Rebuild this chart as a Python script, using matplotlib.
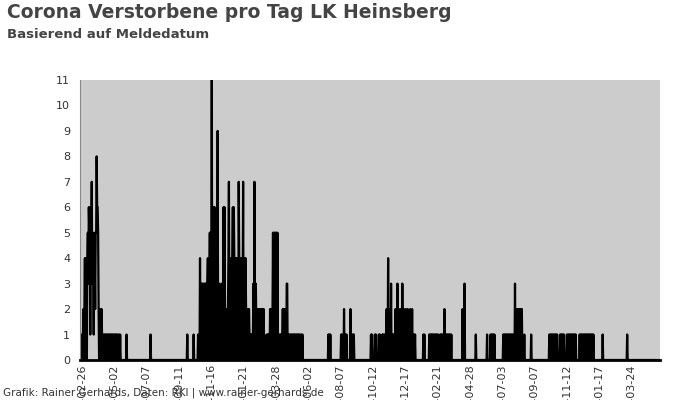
import pandas as pd
import matplotlib
matplotlib.use("Agg")
import matplotlib.pyplot as plt

# Tageswerte erste Welle (ab 2020-02-26)
wave1_start = "2020-02-26"
wave1_deaths = [
    1, 0, 1, 2, 0, 2, 4, 0, 4, 3,
    0, 4, 5, 3, 6, 5, 6, 1, 6, 5,
    7, 3, 5, 4, 1, 5, 4, 2, 5, 5,
    8, 6, 6, 5, 2, 0, 2, 1, 2, 0,
    2, 1, 0, 1, 1, 0, 1, 0, 1, 1,
    0, 1, 0, 1, 0, 1, 1, 0, 1, 0,
    1, 0, 1, 0, 1, 0, 1, 1, 0, 1,
    0, 1, 0, 1, 0, 0, 1, 0, 1, 0,
]

# Tageswerte zweite Welle (ab 2020-09-25)
wave2_start = "2020-09-25"
wave2_deaths = [
    0, 0, 0, 1, 0, 0, 0, 0, 0, 0,
    0, 0, 0, 0, 0, 0, 1, 0, 0, 0,
    0, 0, 0, 0, 0, 1, 0, 0, 0, 4,
    0, 3, 1, 3, 3, 0, 2, 3, 0, 3,
    1, 3, 0, 2, 3, 4, 0, 4, 2, 5,
    0, 5, 2, 11, 0, 6, 2, 6, 0, 6,
    2, 4, 0, 2, 2, 9, 0, 2, 3, 2,
    0, 2, 2, 3, 0, 2, 2, 6, 0, 6,
    2, 0, 2, 1, 2, 0, 2, 4, 7, 0,
    4, 4, 0, 4, 2, 4, 6, 0, 6, 4,
    0, 4, 4, 0, 2, 4, 4, 0, 7, 4,
    0, 4, 2, 4, 0, 4, 2, 7, 0, 4,
    4, 0, 4, 2, 0, 2, 1, 2, 0, 2,
    1, 0, 1, 1, 0, 1, 0, 1, 3, 0,
    7, 3, 0, 3, 1, 2, 0, 2, 2, 0,
    2, 1, 2, 0, 2, 2, 0, 2, 1, 2,
    0, 0, 0, 0, 0, 1, 0, 1, 0, 1,
    1, 0, 2, 0, 2, 1, 0, 2, 5, 0,
    5, 5, 0, 5, 1, 5, 0, 5, 0, 1,
    1, 0, 1, 0, 1, 1, 0, 1, 2, 0,
    2, 2, 0, 2, 1, 0, 3, 3, 0, 1,
    0, 1, 1, 0, 1, 0, 1, 0, 1, 0,
    1, 1, 0, 1, 0, 1, 0, 1, 0, 1,
    0, 1, 0, 1, 0, 0, 1, 0, 1, 0,
]

# einzelne Meldetage danach (alle uebrigen Tage: 0)
other_dates = [
    "2020-05-27", "2020-07-15",
    "2021-07-13", "2021-07-15", "2021-07-17",
    "2021-08-08", "2021-08-10", "2021-08-14", "2021-08-17", "2021-08-19",
    "2021-08-27", "2021-08-30", "2021-09-01", "2021-09-03",
    "2021-10-08", "2021-10-10", "2021-10-16", "2021-10-18", "2021-10-24", "2021-10-26",
    "2021-10-31", "2021-11-02", "2021-11-04", "2021-11-06", "2021-11-08", "2021-11-09",
    "2021-11-12", "2021-11-14", "2021-11-16", "2021-11-18", "2021-11-20", "2021-11-22",
    "2021-11-24", "2021-11-27", "2021-11-29", "2021-12-01", "2021-12-04", "2021-12-06",
    "2021-12-08", "2021-12-11", "2021-12-14", "2021-12-18", "2021-12-20", "2021-12-22",
    "2021-12-24", "2021-12-27", "2021-12-29", "2021-12-31",
    "2022-01-02", "2022-01-04", "2022-01-06", "2022-01-23", "2022-01-25",
    "2022-02-04", "2022-02-06", "2022-02-08", "2022-02-10", "2022-02-12", "2022-02-14",
    "2022-02-16", "2022-02-18", "2022-02-20", "2022-02-22", "2022-02-26", "2022-02-28",
    "2022-03-02", "2022-03-04", "2022-03-07", "2022-03-09", "2022-03-11", "2022-03-13",
    "2022-03-15", "2022-03-17", "2022-03-19", "2022-03-21",
    "2022-04-13", "2022-04-15", "2022-04-17", "2022-05-10",
    "2022-06-02", "2022-06-09", "2022-06-11", "2022-06-13", "2022-06-15", "2022-06-17",
    "2022-07-05", "2022-07-07", "2022-07-09", "2022-07-11", "2022-07-13", "2022-07-15",
    "2022-07-17", "2022-07-19", "2022-07-21", "2022-07-23", "2022-07-25",
    "2022-07-29", "2022-07-31", "2022-08-02", "2022-08-04", "2022-08-06", "2022-08-08",
    "2022-08-10", "2022-08-12", "2022-08-17", "2022-08-31",
    "2022-10-07", "2022-10-09", "2022-10-11", "2022-10-13", "2022-10-15", "2022-10-17",
    "2022-10-19", "2022-10-21", "2022-10-23",
    "2022-10-29", "2022-10-31", "2022-11-02", "2022-11-04", "2022-11-06",
    "2022-11-12", "2022-11-14", "2022-11-16", "2022-11-18", "2022-11-20", "2022-11-22",
    "2022-11-24", "2022-11-26", "2022-11-28", "2022-11-30",
    "2022-12-08", "2022-12-10", "2022-12-12", "2022-12-14", "2022-12-16", "2022-12-18",
    "2022-12-20", "2022-12-22", "2022-12-24", "2022-12-26", "2022-12-28", "2022-12-30",
    "2023-01-01", "2023-01-03", "2023-01-05", "2023-01-24", "2023-03-15",
]
other_deaths = [
    1, 1,
    1, 1, 1,
    1, 1, 2, 1, 1,
    2, 1, 1, 1,
    1, 1, 1, 1, 1, 1,
    1, 1, 1, 1, 1, 2,
    4, 1, 2, 3, 1, 1,
    1, 2, 1, 3, 2, 1,
    2, 3, 2, 2, 1, 2,
    1, 2, 1, 2,
    1, 1, 1, 1, 1,
    1, 1, 1, 1, 1, 1,
    1, 1, 1, 1, 1, 1,
    1, 1, 2, 1, 1, 1,
    1, 1, 1, 1,
    2, 1, 3, 1,
    1, 1, 1, 1, 1, 1,
    1, 1, 1, 1, 1, 1,
    1, 1, 1, 1, 1,
    3, 2, 2, 2, 2, 2,
    2, 2, 1, 1,
    1, 1, 1, 1, 1, 1,
    1, 1, 1,
    1, 1, 1, 1, 1,
    1, 1, 1, 1, 1, 1,
    1, 1, 1, 1,
    1, 1, 1, 1, 1, 1,
    1, 1, 1, 1, 1, 1,
    1, 1, 1, 1, 1,
]

first_day = "2020-02-22"
last_day = "2023-05-21"
tick_start = "2020-02-26"

days = pd.date_range(first_day, last_day, freq="D")
deaths = pd.Series(0.0, index=days)
deaths.loc[pd.date_range(wave1_start, periods=len(wave1_deaths))] = wave1_deaths
deaths.loc[pd.date_range(wave2_start, periods=len(wave2_deaths))] = wave2_deaths
deaths.loc[pd.to_datetime(other_dates)] = other_deaths

fig = plt.figure(figsize=(7, 4), dpi=100)
ax = fig.add_axes([80 / 700, 40 / 400, 580 / 700, 280 / 400])
ax.set_facecolor("#cccccc")
ax.plot(deaths.index, deaths.values, color="black", lw=1.6)

ax.set_ylim(0, 11)
ax.set_xlim(pd.Timestamp(first_day), pd.Timestamp(last_day))
ax.set_yticks(range(12))
ticks = pd.date_range(tick_start, periods=18, freq="66D")
ax.set_xticks(ticks)
ax.set_xticklabels([t.strftime("%Y-%m-%d") for t in ticks], rotation=90)
ax.tick_params(length=0, labelsize=8, colors="#333333")
ax.tick_params(axis="y", pad=7)
ax.tick_params(axis="x", pad=3)
for s in ["top", "right"]:
    ax.spines[s].set_visible(False)
ax.spines["left"].set_color("#888888")
ax.spines["bottom"].set_color("black")
ax.spines["bottom"].set_linewidth(2)

fig.text(0.01, 1 - 13 / 400, "Corona Verstorbene pro Tag LK Heinsberg",
         fontsize=13.5, fontweight="bold", color="#444444", va="center")
fig.text(0.01, 1 - 35 / 400, "Basierend auf Meldedatum",
         fontsize=9.5, fontweight="bold", color="#444444", va="center")
fig.text(0.004, 1 - 393 / 400, "Grafik: Rainer Gerhards, Daten: RKI | www.rainer-gerhards.de",
         fontsize=7.5, color="#333333", va="center")

fig.savefig("out.png", dpi=100)
